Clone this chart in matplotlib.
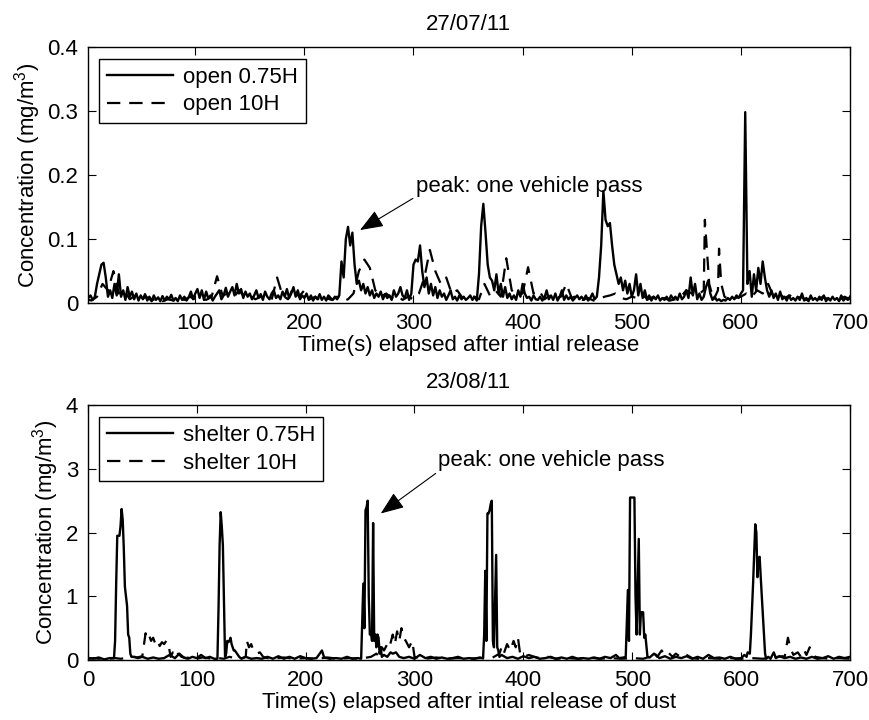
import numpy as np
import matplotlib
matplotlib.use('Agg')
import matplotlib.pyplot as plt
from matplotlib.ticker import FormatStrFormatter

plt.rcParams['font.family'] = ['Liberation Sans', 'DejaVu Sans']
plt.rcParams['mathtext.fontset'] = 'custom'
plt.rcParams['mathtext.rm'] = 'Liberation Sans'
plt.rcParams['font.size'] = 16

## 27/07/11 : open site, 0.75H every 2 s
open_075_t = np.arange(2, 701, 2)
open_075 = [
    0.008, 0.012, 0.005, 0.010, 0.030, 0.045, 0.060, 0.063, 0.040, 0.010, 0.020, 0.008, 0.030,
    0.012, 0.045, 0.010, 0.020, 0.005, 0.025, 0.010, 0.018, 0.006, 0.015, 0.004, 0.012,
    0.006, 0.014, 0.004, 0.010, 0.003, 0.012, 0.005, 0.009, 0.003, 0.011, 0.004, 0.010, 0.006,
    0.013, 0.004, 0.008, 0.003, 0.012, 0.005, 0.010, 0.004, 0.009, 0.018, 0.006, 0.015,
    0.022, 0.008, 0.020, 0.005, 0.018, 0.007, 0.012, 0.004, 0.010, 0.015, 0.020, 0.006, 0.012,
    0.024, 0.010, 0.018, 0.025, 0.012, 0.030, 0.015, 0.022, 0.008, 0.018, 0.010, 0.015,
    0.006, 0.012, 0.020, 0.008, 0.014, 0.005, 0.018, 0.010, 0.006, 0.015, 0.020, 0.008, 0.012,
    0.006, 0.018, 0.010, 0.022, 0.008, 0.015, 0.025, 0.010, 0.020, 0.006, 0.012, 0.008,
    0.015, 0.005, 0.012, 0.004, 0.010, 0.006, 0.014, 0.005, 0.010, 0.004, 0.012, 0.008, 0.005,
    0.010, 0.006, 0.012, 0.065, 0.040, 0.100, 0.119, 0.090, 0.110, 0.060, 0.030, 0.035,
    0.020, 0.030, 0.015, 0.025, 0.012, 0.020, 0.008, 0.015, 0.010, 0.018, 0.006, 0.014, 0.008,
    0.012, 0.005, 0.020, 0.010, 0.015, 0.025, 0.012, 0.008, 0.020, 0.005, 0.015, 0.060,
    0.068, 0.065, 0.090, 0.050, 0.025, 0.040, 0.015, 0.030, 0.012, 0.025, 0.008, 0.020, 0.010,
    0.015, 0.005, 0.012, 0.020, 0.006, 0.010, 0.004, 0.012, 0.006, 0.010, 0.005, 0.008,
    0.012, 0.005, 0.010, 0.004, 0.045, 0.120, 0.155, 0.110, 0.060, 0.040, 0.035, 0.020, 0.045,
    0.015, 0.030, 0.010, 0.025, 0.008, 0.015, 0.006, 0.012, 0.005, 0.020, 0.010, 0.030,
    0.015, 0.008, 0.010, 0.004, 0.012, 0.006, 0.005, 0.010, 0.004, 0.008, 0.020, 0.006, 0.012,
    0.005, 0.015, 0.004, 0.010, 0.020, 0.005, 0.012, 0.006, 0.010, 0.004, 0.008, 0.012,
    0.006, 0.010, 0.005, 0.012, 0.004, 0.008, 0.015, 0.006, 0.010, 0.040, 0.090, 0.175, 0.130,
    0.120, 0.125, 0.090, 0.060, 0.045, 0.030, 0.040, 0.020, 0.035, 0.015, 0.030, 0.010,
    0.020, 0.045, 0.012, 0.030, 0.008, 0.020, 0.005, 0.012, 0.004, 0.010, 0.006, 0.012, 0.004,
    0.008, 0.005, 0.010, 0.004, 0.012, 0.006, 0.010, 0.005, 0.015, 0.006, 0.010, 0.020,
    0.008, 0.040, 0.012, 0.030, 0.006, 0.015, 0.005, 0.010, 0.025, 0.035, 0.015, 0.005, 0.010,
    0.004, 0.006, 0.003, 0.005, 0.004, 0.008, 0.005, 0.010, 0.006, 0.012, 0.008, 0.015,
    0.020, 0.298, 0.030, 0.050, 0.010, 0.045, 0.020, 0.055, 0.030, 0.065, 0.040, 0.020, 0.010,
    0.020, 0.008, 0.015, 0.005, 0.018, 0.006, 0.010, 0.004, 0.012, 0.005, 0.008, 0.004,
    0.010, 0.005, 0.015, 0.004, 0.008, 0.003, 0.012, 0.005, 0.008, 0.004, 0.010, 0.005, 0.012,
    0.003, 0.008, 0.004, 0.010, 0.005, 0.008, 0.003, 0.012, 0.004, 0.008, 0.005, 0.010,
]

## 27/07/11 : open site, 10H (5 s, finer around 565-585)
open_10_t = np.r_[
    np.arange(0, 561, 5),
    [566, 567, 569, 571, 575, 579, 580, 582, 585, 590, 595],
    np.arange(600, 701, 5),
]
open_10 = [
    0.006, 0.004, 0.010, 0.030, 0.020, 0.050, 0.015, 0.020, 0.006, 0.012,
    0.005, 0.010, 0.004, 0.008, 0.003, 0.006, 0.004, 0.008, 0.005, 0.010,
    0.006, 0.008, 0.005, 0.010, 0.042, 0.012, 0.015, 0.008, 0.020, 0.010,
    0.012, 0.006, 0.010, 0.008, 0.005, 0.040, 0.012, 0.006, 0.025, 0.010,
    0.020, 0.006, 0.010, 0.004, 0.008, 0.005, 0.010, 0.003, 0.006, 0.015,
    0.050, 0.068, 0.055, 0.020, 0.010, 0.015, 0.008, 0.012, 0.005, 0.010,
    0.006, 0.015, 0.040, 0.083, 0.050, 0.030, 0.040, 0.015, 0.020, 0.008,
    0.012, 0.010, 0.006, 0.030, 0.012, 0.020, 0.010, 0.070, 0.020, 0.012,
    0.015, 0.056, 0.015, 0.020, 0.006, 0.012, 0.008, 0.010, 0.030, 0.008,
    0.012, 0.005, 0.008, 0.004, 0.006, 0.010, 0.012, 0.015, 0.008, 0.006,
    0.010, 0.008, 0.012, 0.006, 0.010, 0.005, 0.008, 0.004, 0.006, 0.010,
    0.020, 0.015, 0.012,
    0.020, 0.130, 0.080, 0.030, 0.005, 0.020, 0.085, 0.030, 0.010, 0.005, 0.008,
    0.010, 0.015, 0.010, 0.020, 0.015, 0.030, 0.010, 0.015, 0.008, 0.012,
    0.006, 0.010, 0.005, 0.008, 0.004, 0.010, 0.006, 0.008, 0.005, 0.010,
    0.006,
]

## 23/08/11 : shelter, 0.75H (1 s around the vehicle passes)
shelter_075_t = [
    0, 5, 10, 15, 20, 24, 25, 26, 27, 28, 29, 30, 31, 32, 33, 34, 35, 36, 37, 38, 39, 40,
    43, 46, 50, 55, 60, 65, 70, 75, 80, 84, 88, 92, 96, 100, 104, 108, 112, 116, 119,
    120, 121, 122, 123, 124, 125, 126, 127, 128, 129, 130, 131, 132, 133, 134, 135, 137, 139,
    141, 145, 150, 155, 160, 165, 170, 175, 180, 185, 190, 195, 200, 205, 210, 215, 217,
    222, 228, 233, 238, 243, 248, 251,
    252, 253, 254, 255, 256, 257, 258, 259, 260, 261, 262, 263, 264, 265, 266, 267, 268, 269,
    270, 272, 275, 278, 280, 283, 286, 290, 295, 300, 305, 310, 315, 320, 325, 330, 335,
    340, 345, 350, 355, 360, 363,
    364, 365, 366, 367, 368, 369, 370, 371, 372, 373, 375, 376, 377, 378, 380, 385, 390,
    395, 400, 405, 410, 415, 420, 425, 430, 435, 440, 445, 450, 455, 460, 465, 470, 475,
    480, 485, 488, 492,
    494, 496, 497, 498, 502, 503, 504, 506, 507, 508, 510, 511, 512, 514, 516, 520, 525,
    530, 535, 540, 545, 550, 555, 560, 565, 570, 575, 580, 585, 590, 595, 600, 603, 605,
    606, 608, 609, 611, 613, 614, 615, 616, 617, 618, 619, 620, 621, 622, 623, 625, 627,
    630, 632, 635, 640, 645, 650, 655, 660, 665, 670, 675, 680, 685, 690, 695, 700,
]
shelter_075 = [
    0.03, 0.02, 0.04, 0.01, 0.03, 0.03, 0.30, 1.20, 1.95, 1.95, 1.95, 2.10, 2.37, 2.20, 1.75,
    1.15, 1.00, 0.85, 0.40, 0.35, 0.10, 0.05,
    0.05, 0.03, 0.05, 0.02, 0.04, 0.02, 0.03, 0.08, 0.03, 0.10, 0.04, 0.02, 0.05, 0.03, 0.08,
    0.03, 0.05, 0.02, 0.02,
    0.80, 1.80, 2.32, 2.10, 1.80, 0.90, 0.05, 0.10, 0.30, 0.28, 0.30, 0.35, 0.25, 0.20, 0.15,
    0.15, 0.10, 0.05,
    0.02, 0.05, 0.02, 0.03, 0.02, 0.05, 0.02, 0.06, 0.02, 0.05, 0.02, 0.06, 0.03, 0.02, 0.03,
    0.15, 0.04,
    0.02, 0.03, 0.02, 0.05, 0.02, 0.03, 0.02,
    0.60, 1.20, 0.50, 2.35, 2.40, 2.50, 1.00, 0.40, 0.45, 0.30, 2.15, 0.30, 0.40, 0.20, 0.40,
    0.35, 0.10, 0.20,
    0.05, 0.08, 0.05, 0.12, 0.10, 0.12, 0.05, 0.03, 0.05, 0.02, 0.08, 0.03, 0.05, 0.02, 0.04,
    0.02, 0.03,
    0.05, 0.02, 0.03, 0.02, 0.04, 0.03,
    0.40, 1.40, 0.30, 2.30, 2.30, 2.35, 2.45, 2.50, 0.30, 0.20, 1.65, 0.20, 0.15, 0.05, 0.08,
    0.03, 0.05,
    0.02, 0.06, 0.03, 0.05, 0.02, 0.03, 0.05, 0.02, 0.04, 0.02, 0.05, 0.02, 0.03, 0.02, 0.04,
    0.02, 0.05,
    0.03, 0.08, 0.03, 0.04,
    0.05, 1.10, 0.30, 2.55, 2.55, 1.00, 0.40, 1.90, 0.40, 0.75, 0.75, 0.35, 0.40, 0.05, 0.04,
    0.10, 0.03,
    0.06, 0.02, 0.05, 0.03, 0.06, 0.02, 0.05, 0.02, 0.08, 0.03, 0.04, 0.02, 0.05, 0.02, 0.03,
    0.08, 0.05,
    0.12, 0.10, 0.40, 1.20, 2.13, 2.00, 1.30, 1.60, 1.62, 1.30, 1.00, 0.70, 0.40, 0.10, 0.02,
    0.05, 0.02,
    0.12, 0.03, 0.06, 0.03, 0.05, 0.02, 0.04, 0.02, 0.05, 0.02, 0.03, 0.06, 0.02, 0.05, 0.03,
    0.05,
]

## 23/08/11 : shelter, 10H
shelter_10_t = [
    0, 5, 10, 15, 20, 25, 30, 35, 40, 45, 50, 53, 54, 56, 58, 60, 62, 64, 66, 68, 70, 72, 74,
    76, 78, 80, 83, 86, 90, 95, 100, 105, 110, 115, 120, 125, 130, 135, 140, 145, 146, 148,
    150, 152, 155, 158, 161, 165, 170, 180, 190, 200, 210, 220, 230, 240, 250, 260, 265, 268,
    270, 272, 275, 277, 280, 282, 284, 286, 288, 290, 292, 295, 298, 300, 305, 310, 320, 330,
    340, 350, 360, 370, 378, 380, 382, 385, 388, 391, 393, 395, 397, 400, 405, 410, 415, 420,
    430, 440, 450, 460, 470, 480, 490, 500, 510, 516, 520, 523, 527, 530, 533, 537, 540, 545,
    550, 555, 560, 570, 580, 590, 600, 610, 620, 630, 638, 640, 643, 645, 648, 652, 655, 658,
    660, 663, 666, 668, 675, 680, 690, 700,
]
shelter_10 = [
    0.02, 0.03, 0.02, 0.03, 0.02, 0.03, 0.02, 0.03, 0.05, 0.04, 0.06, 0.42, 0.35, 0.40, 0.30,
    0.35, 0.25, 0.30, 0.22, 0.28, 0.25, 0.30, 0.25,
    0.05, 0.12, 0.04, 0.10, 0.05, 0.03, 0.05, 0.02, 0.04, 0.03, 0.02, 0.03, 0.02, 0.05, 0.03,
    0.02, 0.05, 0.30, 0.20,
    0.25, 0.15, 0.10, 0.12, 0.05, 0.03, 0.02, 0.04, 0.02, 0.03, 0.02, 0.04, 0.02, 0.03, 0.02,
    0.05, 0.10, 0.05,
    0.20, 0.15, 0.25, 0.20, 0.40, 0.25, 0.45, 0.30, 0.50, 0.35, 0.30, 0.20, 0.30, 0.05, 0.03,
    0.02, 0.04, 0.02,
    0.03, 0.02, 0.03, 0.02, 0.10, 0.20, 0.10, 0.25, 0.15, 0.30, 0.20, 0.35, 0.10, 0.05, 0.08,
    0.05, 0.03, 0.06,
    0.02, 0.03, 0.02, 0.04, 0.02, 0.03, 0.02, 0.03, 0.02, 0.05, 0.12, 0.05, 0.15, 0.08, 0.12,
    0.05, 0.10, 0.04,
    0.08, 0.03, 0.02, 0.03, 0.02, 0.03, 0.02, 0.03, 0.02, 0.04, 0.06, 0.05, 0.35, 0.20, 0.08,
    0.12, 0.05, 0.15,
    0.08, 0.20, 0.10, 0.05, 0.03, 0.02, 0.03, 0.02,
]

panels = [
    dict(title='27/07/11', t1=open_075_t, y1=open_075, t2=open_10_t, y2=open_10,
         labels=['open 0.75H', 'open 10H'], xlim=(1.6, 700), ylim=(0, 0.4),
         yticks=[0, 0.1, 0.2, 0.3, 0.4], xticks=range(100, 701, 100),
         xlabel='Time(s) elapsed after intial release',
         arrow_xy=(251, 0.114), text_xy=(302, 0.166),
         rect=[0.101, 0.579, 0.876, 0.356]),
    dict(title='23/08/11', t1=shelter_075_t, y1=shelter_075, t2=shelter_10_t, y2=shelter_10,
         labels=['shelter 0.75H', 'shelter 10H'], xlim=(0, 700), ylim=(0, 4),
         yticks=[0, 1, 2, 3, 4], xticks=range(0, 701, 100),
         xlabel='Time(s) elapsed after intial release of dust',
         arrow_xy=(269, 2.3), text_xy=(322, 2.96),
         rect=[0.101, 0.0833, 0.876, 0.354]),
]

fig = plt.figure(figsize=(8.7, 7.2), dpi=100)

for p in panels:
    ax = fig.add_axes(p['rect'])
    ax.plot(p['t1'], p['y1'], color='black', lw=1.7, label=p['labels'][0])
    ax.plot(p['t2'], p['y2'], color='black', lw=1.6, dashes=(6, 4), label=p['labels'][1])
    ax.set_xlim(*p['xlim'])
    ax.set_ylim(*p['ylim'])
    ax.set_xticks(list(p['xticks']))
    ax.set_yticks(p['yticks'])
    ax.yaxis.set_major_formatter(FormatStrFormatter('%g'))
    ax.tick_params(direction='in', length=6, width=0.8, top=True, right=True, pad=7)
    for s in ax.spines.values():
        s.set_linewidth(1.0)
    ax.set_title(p['title'], fontsize=16, pad=12)
    ax.set_xlabel(p['xlabel'], labelpad=1)
    ax.set_ylabel('Concentration (mg/m$^3$)', labelpad=3)

    leg = ax.legend(loc='upper left', bbox_to_anchor=(0.0144, 0.953), borderaxespad=0,
                    fancybox=False, edgecolor='black', framealpha=1, handlelength=3.0,
                    handletextpad=0.45, labelspacing=0.3, borderpad=0.35)
    leg.get_frame().set_linewidth(1.0)

    ## 車両通過のピークを矢印で示す
    ax.annotate('peak: one vehicle pass', xy=p['arrow_xy'], xytext=p['text_xy'],
                ha='left', va='bottom',
                arrowprops=dict(arrowstyle='-|>,head_length=0.9,head_width=0.35',
                                color='black', lw=0.8, relpos=(0, 0),
                                shrinkA=0, shrinkB=0))

plt.savefig('out.png', dpi=100)
